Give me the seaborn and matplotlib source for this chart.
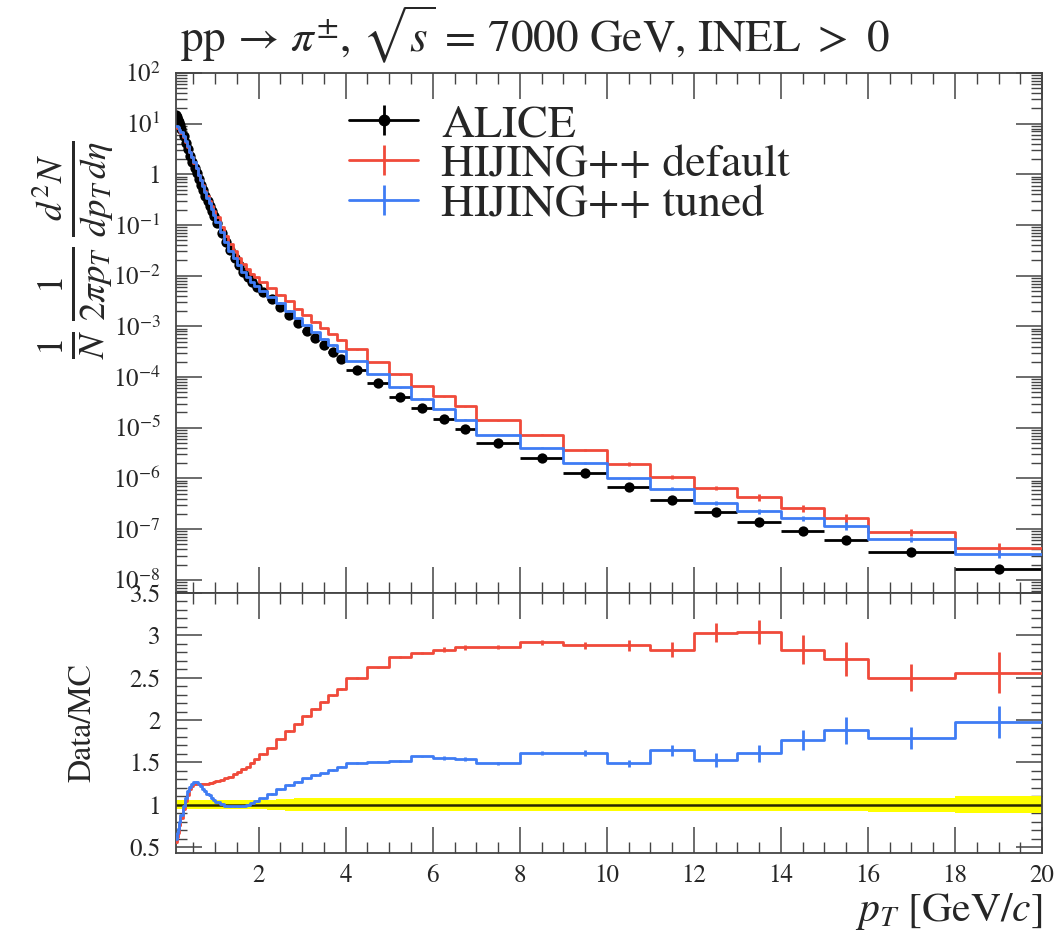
import numpy as np
import matplotlib
matplotlib.use("Agg")
import matplotlib.pyplot as plt
from matplotlib.lines import Line2D
from matplotlib.legend_handler import HandlerTuple
from matplotlib.ticker import MultipleLocator, LogLocator, FixedLocator, FixedFormatter, NullFormatter
import seaborn as sns

# ---------------- data ----------------
bin_edges = [0.10, 0.12, 0.14, 0.16, 0.18, 0.20,
             0.25, 0.30, 0.35, 0.40, 0.45, 0.50, 0.55, 0.60, 0.65, 0.70, 0.75, 0.80, 0.85, 0.90, 0.95, 1.00,
             1.1, 1.2, 1.3, 1.4, 1.5, 1.6, 1.7, 1.8, 1.9, 2.0,
             2.2, 2.4, 2.6, 2.8, 3.0, 3.2, 3.4, 3.6, 3.8, 4.0,
             4.5, 5.0, 5.5, 6.0, 6.5, 7.0,
             8, 9, 10, 11, 12, 13, 14, 15, 16,
             18, 20]

alice_yield = [15.1, 13.5, 12.0, 10.7, 9.5,
               7.9, 5.75, 4.17, 3.09, 2.29, 1.78, 1.35, 1.05, 0.79, 0.62, 0.49, 0.38, 0.30, 0.24, 0.19, 0.15,
               0.11, 0.071, 0.047, 0.032, 0.0224, 0.0162, 0.0120, 0.0093, 0.0074, 0.0060,
               4.7e-3, 3.4e-3, 2.4e-3, 1.66e-3, 1.15e-3, 8.1e-4, 5.8e-4, 4.2e-4, 3.1e-4, 2.3e-4,
               1.4e-4, 7.6e-5, 4.1e-5, 2.4e-5, 1.48e-5, 9.3e-6,
               4.9e-6, 2.5e-6, 1.26e-6, 6.7e-7, 3.8e-7, 2.15e-7, 1.4e-7, 9.2e-8, 6.2e-8,
               3.5e-8, 1.65e-8]

alice_relerr = [0.05, 0.05, 0.05, 0.05, 0.05,
                0.05, 0.05, 0.05, 0.05, 0.05, 0.05, 0.05, 0.05, 0.05, 0.05, 0.05, 0.05, 0.05, 0.05, 0.05, 0.05,
                0.05, 0.05, 0.05, 0.05, 0.05, 0.05, 0.05, 0.05, 0.05, 0.05,
                0.055, 0.06, 0.065, 0.07, 0.075, 0.08, 0.08, 0.08, 0.08, 0.08,
                0.08, 0.08, 0.08, 0.08, 0.08, 0.08,
                0.08, 0.08, 0.08, 0.08, 0.08, 0.08, 0.08, 0.08, 0.08,
                0.085, 0.10]

ratio_default = [0.56, 0.62, 0.67, 0.72, 0.76,
                 0.84, 0.95, 1.04, 1.12, 1.18, 1.22, 1.24, 1.25, 1.25, 1.25, 1.25, 1.25, 1.25, 1.26, 1.26, 1.27,
                 1.28, 1.29, 1.31, 1.33, 1.36, 1.39, 1.42, 1.45, 1.49, 1.54,
                 1.60, 1.67, 1.77, 1.87, 1.95, 2.05, 2.13, 2.21, 2.29, 2.37,
                 2.50, 2.62, 2.74, 2.79, 2.83, 2.86,
                 2.86, 2.92, 2.88, 2.88, 2.83, 3.03, 3.04, 2.83, 2.72,
                 2.50, 2.56]

err_default = [0.01, 0.01, 0.01, 0.01, 0.01,
               0.01, 0.01, 0.01, 0.01, 0.01, 0.01, 0.01, 0.01, 0.01, 0.01, 0.01, 0.01, 0.01, 0.01, 0.01, 0.01,
               0.01, 0.01, 0.01, 0.01, 0.01, 0.01, 0.01, 0.01, 0.01, 0.01,
               0.01, 0.01, 0.01, 0.01, 0.01, 0.01, 0.01, 0.01, 0.01, 0.01,
               0.01, 0.01, 0.01, 0.01, 0.03, 0.03,
               0.02, 0.03, 0.04, 0.07, 0.09, 0.11, 0.14, 0.17, 0.20,
               0.16, 0.24]

ratio_tuned = [0.60, 0.66, 0.71, 0.76, 0.80,
               0.88, 0.99, 1.08, 1.16, 1.21, 1.25, 1.27, 1.27, 1.25, 1.22, 1.19, 1.16, 1.13, 1.11, 1.08, 1.06,
               1.03, 1.01, 0.99, 0.98, 0.98, 0.98, 0.99, 1.00, 1.02, 1.04,
               1.075, 1.13, 1.18, 1.23, 1.27, 1.31, 1.35, 1.37, 1.41, 1.45,
               1.49, 1.51, 1.52, 1.57, 1.55, 1.54,
               1.49, 1.61, 1.61, 1.49, 1.64, 1.53, 1.61, 1.76, 1.88,
               1.79, 1.98]

err_tuned = [0.01, 0.01, 0.01, 0.01, 0.01,
             0.01, 0.01, 0.01, 0.01, 0.01, 0.01, 0.01, 0.01, 0.01, 0.01, 0.01, 0.01, 0.01, 0.01, 0.01, 0.01,
             0.01, 0.01, 0.01, 0.01, 0.01, 0.01, 0.01, 0.01, 0.01, 0.01,
             0.01, 0.01, 0.01, 0.01, 0.01, 0.01, 0.01, 0.01, 0.01, 0.01,
             0.01, 0.01, 0.01, 0.01, 0.02, 0.02,
             0.02, 0.02, 0.03, 0.04, 0.07, 0.08, 0.10, 0.12, 0.16,
             0.13, 0.19]

labels = ["ALICE", "HIJING++ default", "HIJING++ tuned"]
colors = ["black", "#f04a3a", "#3f7cf4"]

ytick_vals = [1e-8, 1e-7, 1e-6, 1e-5, 1e-4, 1e-3, 1e-2, 1e-1, 1, 10, 100]
ytick_labels = [r"$10^{-8}$", r"$10^{-7}$", r"$10^{-6}$", r"$10^{-5}$", r"$10^{-4}$",
                r"$10^{-3}$", r"$10^{-2}$", r"$10^{-1}$", "1", r"$10^{1}$", r"$10^{2}$"]
rtick_vals = [0.5, 1.0, 1.5, 2.0, 2.5, 3.0, 3.5]
rtick_labels = ["0.5", "1", "1.5", "2", "2.5", "3", "3.5"]
xtick_vals = [2, 4, 6, 8, 10, 12, 14, 16, 18, 20]
xtick_labels = ["2", "4", "6", "8", "10", "12", "14", "16", "18", "20"]

# ---------------- derived arrays ----------------
edges = np.array(bin_edges)
cent = 0.5 * (edges[1:] + edges[:-1])
halfw = 0.5 * (edges[1:] - edges[:-1])
data = np.array(alice_yield)
mc_def = data * np.array(ratio_default)
mc_tun = data * np.array(ratio_tuned)

def step_y(v):
    v = np.asarray(v)
    return np.append(v, v[-1])

# ---------------- style ----------------
sns.set_style("ticks")
plt.rcParams["font.family"] = ["STIXGeneral", "DejaVu Serif"]
plt.rcParams["mathtext.fontset"] = "stix"
plt.rcParams["axes.linewidth"] = 1.3
plt.rcParams["axes.edgecolor"] = "#444444"

fig = plt.figure(figsize=(10.59, 9.36), dpi=100)
L, W = 0.1662, 0.8178
ax1 = fig.add_axes([L, 0.3665, W, 0.5556])
ax2 = fig.add_axes([L, 0.0887, W, 0.2778])

lw = 2.0
# ---- top panel ----
ax1.errorbar(cent, data, xerr=halfw, yerr=data * np.array(alice_relerr) * 0.3, fmt="none",
             ecolor="black", elinewidth=2.0, zorder=2)
sns.scatterplot(x=cent, y=data, ax=ax1, color="black", s=55, edgecolor="black", linewidth=0, zorder=2)

for mc, err, col in [(mc_def, err_default, colors[1]), (mc_tun, err_tuned, colors[2])]:
    sns.lineplot(x=edges, y=step_y(mc), ax=ax1, color=col, lw=lw, drawstyle="steps-post",
                 estimator=None, sort=False, errorbar=None, zorder=3)
    ax1.errorbar(cent, mc, yerr=mc * np.array(err), fmt="none", ecolor=col, elinewidth=lw, zorder=3)

ax1.set_yscale("log")
ax1.set_xlim(0.1, 20)
ax1.set_ylim(5.5e-9, 100)
ax1.yaxis.set_major_locator(FixedLocator(ytick_vals))
ax1.yaxis.set_major_formatter(FixedFormatter(ytick_labels))
ax1.yaxis.set_minor_locator(LogLocator(base=10, subs=np.arange(2, 10), numticks=100))
ax1.yaxis.set_minor_formatter(NullFormatter())
ax1.xaxis.set_major_locator(MultipleLocator(2))
ax1.xaxis.set_minor_locator(MultipleLocator(0.5))
ax1.tick_params(axis="x", labelbottom=False)

# ---- ratio panel ----
rel = np.array(alice_relerr)
ones = data / data
ax2.fill_between(edges, step_y(ones - rel), step_y(ones + rel), step="post", color="#ffff00", lw=0, zorder=1)
sns.lineplot(x=edges, y=step_y(ones), ax=ax2, color="#2a2a00", lw=1.8, drawstyle="steps-post",
             estimator=None, sort=False, errorbar=None, zorder=2)
for r, err, col in [(ratio_default, err_default, colors[1]), (ratio_tuned, err_tuned, colors[2])]:
    sns.lineplot(x=edges, y=step_y(r), ax=ax2, color=col, lw=lw, drawstyle="steps-post",
                 estimator=None, sort=False, errorbar=None, zorder=3)
    ax2.errorbar(cent, r, yerr=err, fmt="none", ecolor=col, elinewidth=lw, zorder=3)

ax2.set_xlim(0.1, 20)
ax2.set_ylim(0.43, 3.5)
ax2.yaxis.set_major_locator(FixedLocator(rtick_vals))
ax2.yaxis.set_major_formatter(FixedFormatter(rtick_labels))
ax2.yaxis.set_minor_locator(MultipleLocator(0.1))
ax2.xaxis.set_major_locator(FixedLocator(xtick_vals))
ax2.xaxis.set_major_formatter(FixedFormatter(xtick_labels))
ax2.xaxis.set_minor_locator(MultipleLocator(0.5))

for ax in (ax1, ax2):
    ax.set_xlabel("")
    ax.set_ylabel("")
    for s in ax.spines.values():
        s.set_visible(True)
    ax.tick_params(which="both", direction="in", top=True, right=True, color="#444444",
                   labelsize=18, pad=11)
    ax.tick_params(which="major", length=19, width=1.1)
    ax.tick_params(which="minor", length=8, width=1.0)
ax2.tick_params(axis="x", pad=8)

# ---- labels ----
fig.text(0.170, 0.944, r"pp$\,\rightarrow\,\pi^{\pm}$, $\sqrt{s}\,=\,7000$ GeV, INEL $>$ 0",
         fontsize=32.5, va="baseline", ha="left")
fig.text(0.068, 0.733, r"$\frac{1}{N}\,\frac{1}{2\pi p_T}\,\frac{d^2N}{dp_T\,d\eta}$",
         fontsize=38, rotation=90, ha="center", va="center")
fig.text(0.078, 0.2276, "Data/MC", fontsize=23, rotation=90, ha="center", va="center")
fig.text(0.984, 0.016, r"$p_T$ [GeV$/c$]", fontsize=30, ha="right", va="baseline")

# ---- legend ----
h_data = (Line2D([], [], color="black", lw=2, marker="o", markersize=7.5),
          Line2D([], [], color="black", lw=0, marker="|", markersize=22, markeredgewidth=2))
h_def = Line2D([], [], color=colors[1], lw=2, marker="|", markersize=22, markeredgewidth=2)
h_tun = Line2D([], [], color=colors[2], lw=2, marker="|", markersize=22, markeredgewidth=2)
ax1.legend([h_data, h_def, h_tun], labels, loc="upper left", bbox_to_anchor=(0.2, 0.94),
           frameon=False, fontsize=33, handlelength=1.5, handletextpad=0.5, labelspacing=-0.05,
           borderpad=0, borderaxespad=0, handler_map={tuple: HandlerTuple(ndivide=1)})

fig.savefig("out.png", dpi=100)
